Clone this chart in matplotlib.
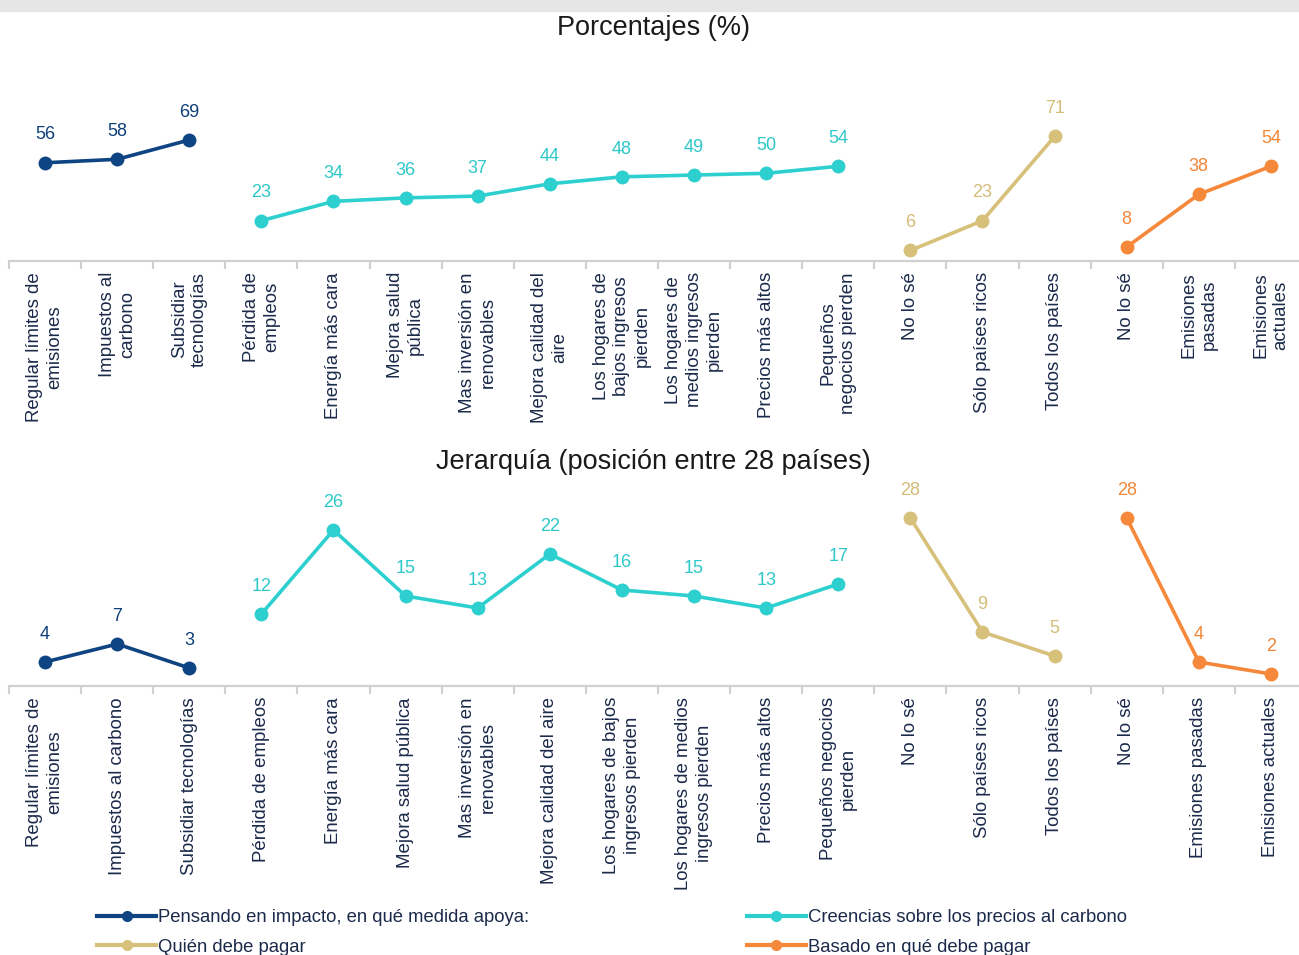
import matplotlib.pyplot as plt
from matplotlib.lines import Line2D
from matplotlib.patches import Rectangle

plt.rcParams['font.family'] = ['Liberation Sans', 'DejaVu Sans']

# categorias (etiquetas del panel superior e inferior)
labels_top = [
    "Regular límites de\nemisiones", "Impuestos al\ncarbono", "Subsidiar\ntecnologías",
    "Pérdida de\nempleos", "Energía más cara", "Mejora salud\npública",
    "Mas inversión en\nrenovables", "Mejora calidad del\naire",
    "Los hogares de\nbajos ingresos\npierden", "Los hogares de\nmedios ingresos\npierden",
    "Precios más altos", "Pequeños\nnegocios pierden",
    "No lo sé", "Sólo países ricos", "Todos los países",
    "No lo sé", "Emisiones\npasadas", "Emisiones\nactuales",
]
labels_bottom = [
    "Regular límites de\nemisiones", "Impuestos al carbono", "Subsidiar tecnologías",
    "Pérdida de empleos", "Energía más cara", "Mejora salud pública",
    "Mas inversión en\nrenovables", "Mejora calidad del aire",
    "Los hogares de bajos\ningresos pierden", "Los hogares de medios\ningresos pierden",
    "Precios más altos", "Pequeños negocios\npierden",
    "No lo sé", "Sólo países ricos", "Todos los países",
    "No lo sé", "Emisiones pasadas", "Emisiones actuales",
]

# grupos: nombre de leyenda, índices, porcentaje, jerarquía
group_names = [
    "Pensando en impacto, en qué medida apoya:",
    "Creencias sobre los precios al carbono",
    "Quién debe pagar",
    "Basado en qué debe pagar",
]
group_idx = [
    [0, 1, 2],
    [3, 4, 5, 6, 7, 8, 9, 10, 11],
    [12, 13, 14],
    [15, 16, 17],
]
pct = [
    [56, 58, 69],
    [23, 34, 36, 37, 44, 48, 49, 50, 54],
    [6, 23, 71],
    [8, 38, 54],
]
rank = [
    [4, 7, 3],
    [12, 26, 15, 13, 22, 16, 15, 13, 17],
    [28, 9, 5],
    [28, 4, 2],
]
colors = ['#0E4482', '#2ECFCF', '#D7C07A', '#F5883A']
label_colors = ['#0E3F7A', '#2EC8C8', '#D3BC78', '#F28636']
text_color = '#1B2A4A'

W, H = 1299, 955
fig = plt.figure(figsize=(W / 100, H / 100), dpi=100)

# franja gris superior
fig.patches.append(Rectangle((0, 1 - 11 / H), 1, 11 / H, transform=fig.transFigure,
                             color='#E6E6E6', zorder=0))

ax1 = fig.add_axes([9 / W, 1 - 261 / H, 1298 / W, 161 / H])
ax2 = fig.add_axes([9 / W, 1 - 686 / H, 1298 / W, 206 / H])


def draw_panel(ax, data, labels, ymax):
    for g in range(4):
        xs = group_idx[g]
        ys = data[g]
        ax.plot(xs, ys, color=colors[g], lw=2.6, marker='o', ms=10,
                markeredgewidth=0, clip_on=False, zorder=3)
        for x, y in zip(xs, ys):
            ax.annotate(str(y), (x, y), xytext=(0, 20), textcoords='offset points',
                        ha='center', va='center', fontsize=13, color=label_colors[g])
    ax.set_xlim(-0.5, len(labels) - 0.5)
    ax.set_ylim(0, ymax)
    ax.set_yticks([])
    for s in ['top', 'left', 'right']:
        ax.spines[s].set_visible(False)
    ax.spines['bottom'].set_color('#D0D0D0')
    ax.spines['bottom'].set_linewidth(1.6)
    ax.set_xticks(range(len(labels)))
    ax.set_xticklabels(labels, rotation=90, fontsize=13.4, color=text_color,
                       linespacing=1.25)
    ax.tick_params(axis='x', which='major', length=0, pad=8)
    ax.set_xticks([i - 0.5 for i in range(len(labels) + 1)], minor=True)
    ax.tick_params(axis='x', which='minor', length=6, width=1.5, color='#D0D0D0')
    ax.patch.set_visible(False)


draw_panel(ax1, pct, labels_top, 161 / 1.754)
draw_panel(ax2, rank, labels_bottom, 206 / 6.0)

fig.text(653 / W, 1 - 28 / H, "Porcentajes (%)", ha='center', va='center',
         fontsize=19.5, color='#1A1A1A')
fig.text(653 / W, 1 - 462 / H, "Jerarquía (posición entre 28 países)", ha='center',
         va='center', fontsize=19.5, color='#1A1A1A')

handles = [Line2D([], [], color=c, lw=3, marker='o', ms=8, markeredgewidth=0)
           for c in colors]
order = [0, 2, 1, 3]
leg = fig.legend([handles[i] for i in order], [group_names[i] for i in order],
                 loc='upper left', bbox_to_anchor=(97 / W, 1 - 909 / H), ncol=2,
                 frameon=False, fontsize=13.3, handlelength=3.2, handletextpad=0.12,
                 columnspacing=11.75, labelspacing=0.68, borderpad=0,
                 borderaxespad=0, markerscale=1)
for t in leg.get_texts():
    t.set_color(text_color)

fig.savefig('out.png', dpi=100)
